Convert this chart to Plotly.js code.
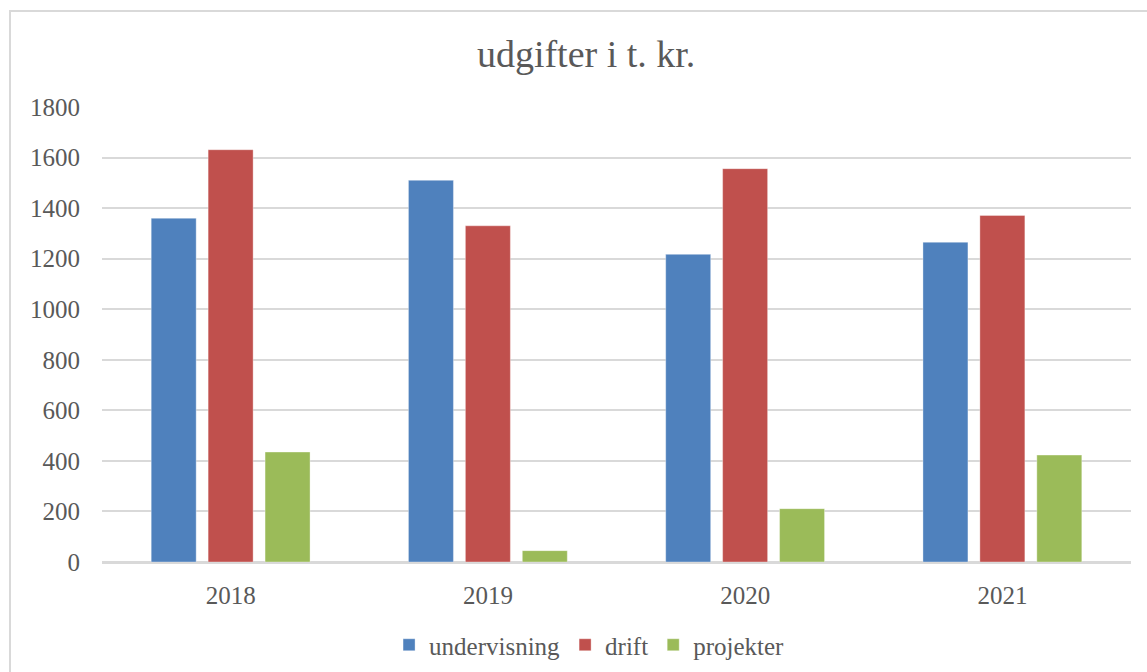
<!DOCTYPE html>
<html>
<head>
<meta charset="utf-8">
<script src="https://cdn.plot.ly/plotly-3.0.1.min.js"></script>
<style>
html,body{margin:0;padding:0;background:#fff;overflow:hidden;}
#chart{position:absolute;left:0;top:0;width:1147px;height:672px;}
#frame{position:absolute;left:9px;top:10px;width:1200px;height:700px;border:2px solid #d9d9d9;box-sizing:border-box;pointer-events:none;}
</style>
</head>
<body>
<div id="frame"></div>
<div id="chart"></div>
<script>
const years = ['2018', '2019', '2020', '2021'];
const undervisning = [1360, 1510, 1217, 1265];
const drift = [1631, 1330, 1556, 1371];
const projekter = [435, 45, 211, 423];
const seriesNames = ['undervisning', 'drift', 'projekter'];
const seriesColors = ['#4F81BD', '#C0504D', '#9BBB59'];
const titleText = 'udgifter i t. kr.';

const font = 'Liberation Serif, Cambria, serif';
const data = [undervisning, drift, projekter].map((vals, i) => ({
  type: 'bar',
  name: seriesNames[i],
  x: years,
  y: vals,
  marker: {color: seriesColors[i], line: {color: 'rgba(255,255,255,0.35)', width: 1}},
  hoverinfo: 'y'
}));

const layout = {
  width: 1147, height: 672,
  margin: {l: 101.5, r: 15.5, t: 107, b: 110, pad: 0},
  paper_bgcolor: 'rgba(0,0,0,0)',
  plot_bgcolor: 'rgba(0,0,0,0)',
  font: {family: font, color: '#595959', size: 25},
  title: {text: titleText, font: {family: font, size: 38, color: '#595959'}, xref: 'container', x: 0.511, xanchor: 'center', yref: 'container', y: 1 - 54/672, yanchor: 'middle'},
  barmode: 'group',
  bargap: 0.336,
  bargroupgap: 0.21,
  showlegend: true,
  legend: {orientation: 'h', xref: 'container', x: 0.514, xanchor: 'center', yref: 'container', y: 1 - 645/672, yanchor: 'middle', font: {family: font, size: 25, color: '#595959'}, itemwidth: 30, traceorder: 'normal'},
  xaxis: {type: 'category', showgrid: false, showline: true, linecolor: '#d9d9d9', linewidth: 2, ticks: '', ticklabelstandoff: 10, tickfont: {family: font, size: 25, color: '#595959'}},
  yaxis: {range: [0, 1800], dtick: 200, tick0: 0, showgrid: true, gridcolor: '#d9d9d9', gridwidth: 2, zeroline: true, zerolinecolor: '#d9d9d9', zerolinewidth: 2, showline: false, ticks: '', ticklabelstandoff: 21, tickfont: {family: font, size: 25, color: '#595959'}}
};

Plotly.newPlot('chart', data, layout, {displayModeBar: false, staticPlot: true});
</script>
</body>
</html>
